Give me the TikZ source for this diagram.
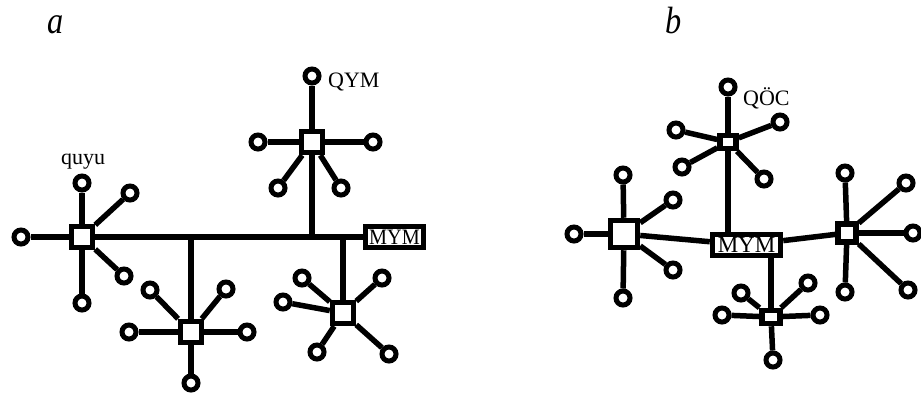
\documentclass[tikz,border=0pt]{standalone}
\usepackage{fontspec}
\setmainfont{Liberation Serif}
\usetikzlibrary{positioning}

\tikzset{
  pipe/.style={line width=5.5pt},
  well/.style={circle,draw,fill=white,line width=5pt,minimum size=14pt,inner sep=0pt},
  hub/.style={rectangle,draw,fill=white,line width=5.5pt,inner sep=0pt},
  station/.style={rectangle,draw,fill=white,line width=5.5pt,inner sep=1pt,font=\fontsize{22}{22}\selectfont},
  lbl/.style={font=\fontsize{22}{22}\selectfont,inner sep=0pt},
  panel/.style={font=\fontsize{38}{38}\selectfont\itshape,inner sep=0pt,anchor=base}
}

\begin{document}
\begin{tikzpicture}[x=1pt,y=-1pt]
\useasboundingbox (0,0) rectangle (921,397);

% panel titles
\node[panel] (ta) at (56,33) {\scalebox{0.85}[1]{a}};
\node[panel] (tb) at (674,33) {\scalebox{0.85}[1]{b}};

% ---- scheme a: one collector line ----
\node[station,minimum width=58pt,minimum height=21pt] (mymA) at (394.5,237) {\scalebox{0.92}[1]{MYM}};
\node[hub,minimum size=21pt] (hA1) at (82,237) {};
\node[hub,minimum size=21pt] (hA2) at (191,332) {};
\node[hub,minimum size=21pt] (hA3) at (343,313) {};
\node[hub,minimum size=21pt] (hA4) at (312,142) {};

\draw[pipe] (hA1) -- (mymA);
\draw[pipe] (hA2) -- (hA2 |- hA1);
\draw[pipe] (hA3) -- (hA3 |- hA1);
\draw[pipe] (hA4) -- (hA4 |- hA1);

\foreach \n/\x/\y/\h in {a11/21/237/hA1,a12/82/183/hA1,a13/130/193/hA1,a14/124/276/hA1,a15/82/303/hA1,
                         a21/150/290/hA2,a22/226/289/hA2,a23/129/332/hA2,a24/247/332/hA2,a25/191/383/hA2,
                         a31/302/278/hA3,a32/283/302/hA3,a33/382/278/hA3,a34/317/352/hA3,a35/389/354/hA3,
                         a41/312/76/hA4,a42/258/142/hA4,a43/373/142/hA4,a44/278/188/hA4,a45/341/188/hA4} {
  \node[well] (\n) at (\x,\y) {};
  \draw[pipe] (\h) -- (\n);
}
% redraw the hubs over the spokes
\foreach \h in {hA1,hA2,hA3,hA4}
  \node[hub,minimum size=21pt] at (\h) {};

\node[lbl] (quyu) at (83,162) {quyu};
\node[lbl,anchor=base west] (qym) at (328,87) {QYM};

% ---- scheme b: ray scheme ----
\node[station,minimum width=68pt,minimum height=21pt,font=\fontsize{23}{23}\selectfont] (mymB) at (746.5,245) {MYM};
\node[hub,minimum size=27pt] (hB1) at (624,234) {};
\node[hub,minimum size=18pt] (hB2) at (847,233) {};
\node[hub,minimum width=16pt,minimum height=13pt] (hB3) at (728,142) {};
\node[hub,minimum width=18pt,minimum height=13pt] (hB4) at (771,317) {};

\draw[pipe] (hB1) -- (mymB);
\draw[pipe] (mymB) -- (hB2);
\draw[pipe] (hB3) -- (hB3 |- mymB.north);
\draw[pipe] (hB4) -- (hB4 |- mymB.south);

\foreach \n/\x/\y/\h in {b11/574/234/hB1,b12/623/175/hB1,b13/673/200/hB1,b14/673/270/hB1,b15/623/298/hB1,
                         b21/845/173/hB2,b22/906/183/hB2,b23/913/233/hB2,b24/908/290/hB2,b25/845/292/hB2,
                         b31/728/87/hB3,b32/676/130/hB3,b33/682/167/hB3,b34/780/122/hB3,b35/764/179/hB3,
                         b41/722/315/hB4,b42/741/293/hB4,b43/808/283/hB4,b44/820/315/hB4,b45/773/360/hB4} {
  \node[well] (\n) at (\x,\y) {};
  \draw[pipe] (\h) -- (\n);
}
\node[hub,minimum size=27pt] at (hB1) {};
\node[hub,minimum size=18pt] at (hB2) {};
\node[hub,minimum width=16pt,minimum height=13pt] at (hB3) {};
\node[hub,minimum width=18pt,minimum height=13pt] at (hB4) {};

\node[lbl,anchor=base west] (qoc) at (743,105) {QÖC};
\end{tikzpicture}
\end{document}
